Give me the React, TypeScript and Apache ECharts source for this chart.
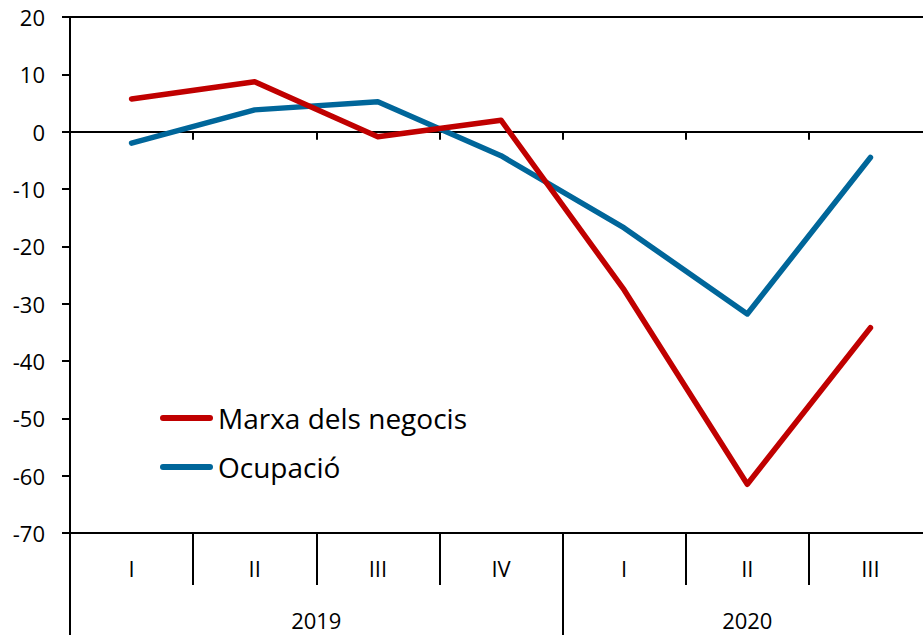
import React, { useEffect, useRef } from "react";
import * as echarts from "echarts";

const quarters = ["I", "II", "III", "IV", "I", "II", "III"];
const years = ["2019", "2020"];
const marxaDelsNegocis = [5.7, 8.7, -0.9, 2.0, -27.6, -61.5, -34.2];
const ocupacio = [-2.0, 3.8, 5.2, -4.2, -16.8, -31.8, -4.5];
const yTicks = { min: -70, max: 20, interval: 10 };

// Half-quarter slots for the year axis (15 boundary points)
const yearSlots = Array.from({ length: 15 }, (_, i) =>
  i === 4 ? years[0] : i === 11 ? years[1] : ""
);

const FONT = "'Open Sans', 'Noto Sans', sans-serif";

export default function App() {
  const ref = useRef<HTMLDivElement>(null);
  useEffect(() => {
    document.body.style.margin = "0";
    document.body.style.overflow = "hidden";
    const chart = echarts.init(ref.current!, null, { renderer: "svg" });
    chart.setOption({
      animation: false,
      backgroundColor: "#fff",
      grid: {
        left: 70,
        right: 0,
        top: 17,
        bottom: 102,
        show: true,
        borderColor: "#000",
        borderWidth: 2,
        backgroundColor: "transparent",
      },
      legend: {
        orient: "vertical",
        left: 160,
        top: 402,
        padding: 0,
        itemWidth: 53,
        itemHeight: 6,
        itemGap: 17,
        icon: "path://M3,0 H50 A3,3 0 0 1 50,6 H3 A3,3 0 0 1 3,0 Z",
        textStyle: {
          fontSize: 28,
          color: "#000",
          fontFamily: FONT,
          lineHeight: 32,
        },
        data: ["Marxa dels negocis", "Ocupació"],
      },
      xAxis: [
        {
          type: "category",
          data: quarters,
          position: "bottom",
          axisLine: { onZero: true, lineStyle: { color: "#000", width: 2 } },
          axisTick: { show: true, length: 8, interval: 0, lineStyle: { color: "#000", width: 2 } },
          axisLabel: { show: false },
          splitLine: { show: false },
        },
        {
          type: "category",
          data: quarters,
          position: "bottom",
          axisLine: { onZero: false, lineStyle: { color: "#000", width: 2 } },
          axisTick: { show: true, length: 52, interval: 0, lineStyle: { color: "#000", width: 2 } },
          axisLabel: {
            interval: 0,
            margin: 24,
            fontSize: 22,
            color: "#000",
            fontFamily: FONT,
          },
          splitLine: { show: false },
        },
        {
          type: "category",
          data: yearSlots,
          boundaryGap: false,
          position: "bottom",
          axisLine: { show: false, onZero: false },
          axisTick: {
            show: true,
            length: 102,
            interval: (i: number) => i === 0 || i === 8 || i === 14,
            lineStyle: { color: "#000", width: 2 },
          },
          axisLabel: {
            interval: (i: number) => i === 4 || i === 11,
            margin: 76,
            fontSize: 22,
            color: "#000",
            fontFamily: FONT,
          },
          splitLine: { show: false },
        },
      ],
      yAxis: {
        type: "value",
        min: yTicks.min,
        max: yTicks.max,
        interval: yTicks.interval,
        axisLine: { show: true, onZero: false, lineStyle: { color: "#000", width: 2 } },
        axisTick: { show: true, length: 8, lineStyle: { color: "#000", width: 2 } },
        axisLabel: { margin: 25, fontSize: 22, color: "#000", fontFamily: FONT },
        splitLine: { show: false },
      },
      series: [
        {
          name: "Marxa dels negocis",
          type: "line",
          xAxisIndex: 0,
          data: marxaDelsNegocis,
          symbol: "none",
          color: "#C00000",
          lineStyle: { width: 5.5, color: "#C00000", cap: "round", join: "round" },
          z: 3,
        },
        {
          name: "Ocupació",
          type: "line",
          xAxisIndex: 0,
          data: ocupacio,
          symbol: "none",
          color: "#00669A",
          lineStyle: { width: 5.5, color: "#00669A", cap: "round", join: "round" },
          z: 2,
        },
      ],
    });
    return () => chart.dispose();
  }, []);
  return (
    <div
      ref={ref}
      style={{ position: "absolute", left: 0, top: 0, width: 932, height: 635 }}
    />
  );
}
